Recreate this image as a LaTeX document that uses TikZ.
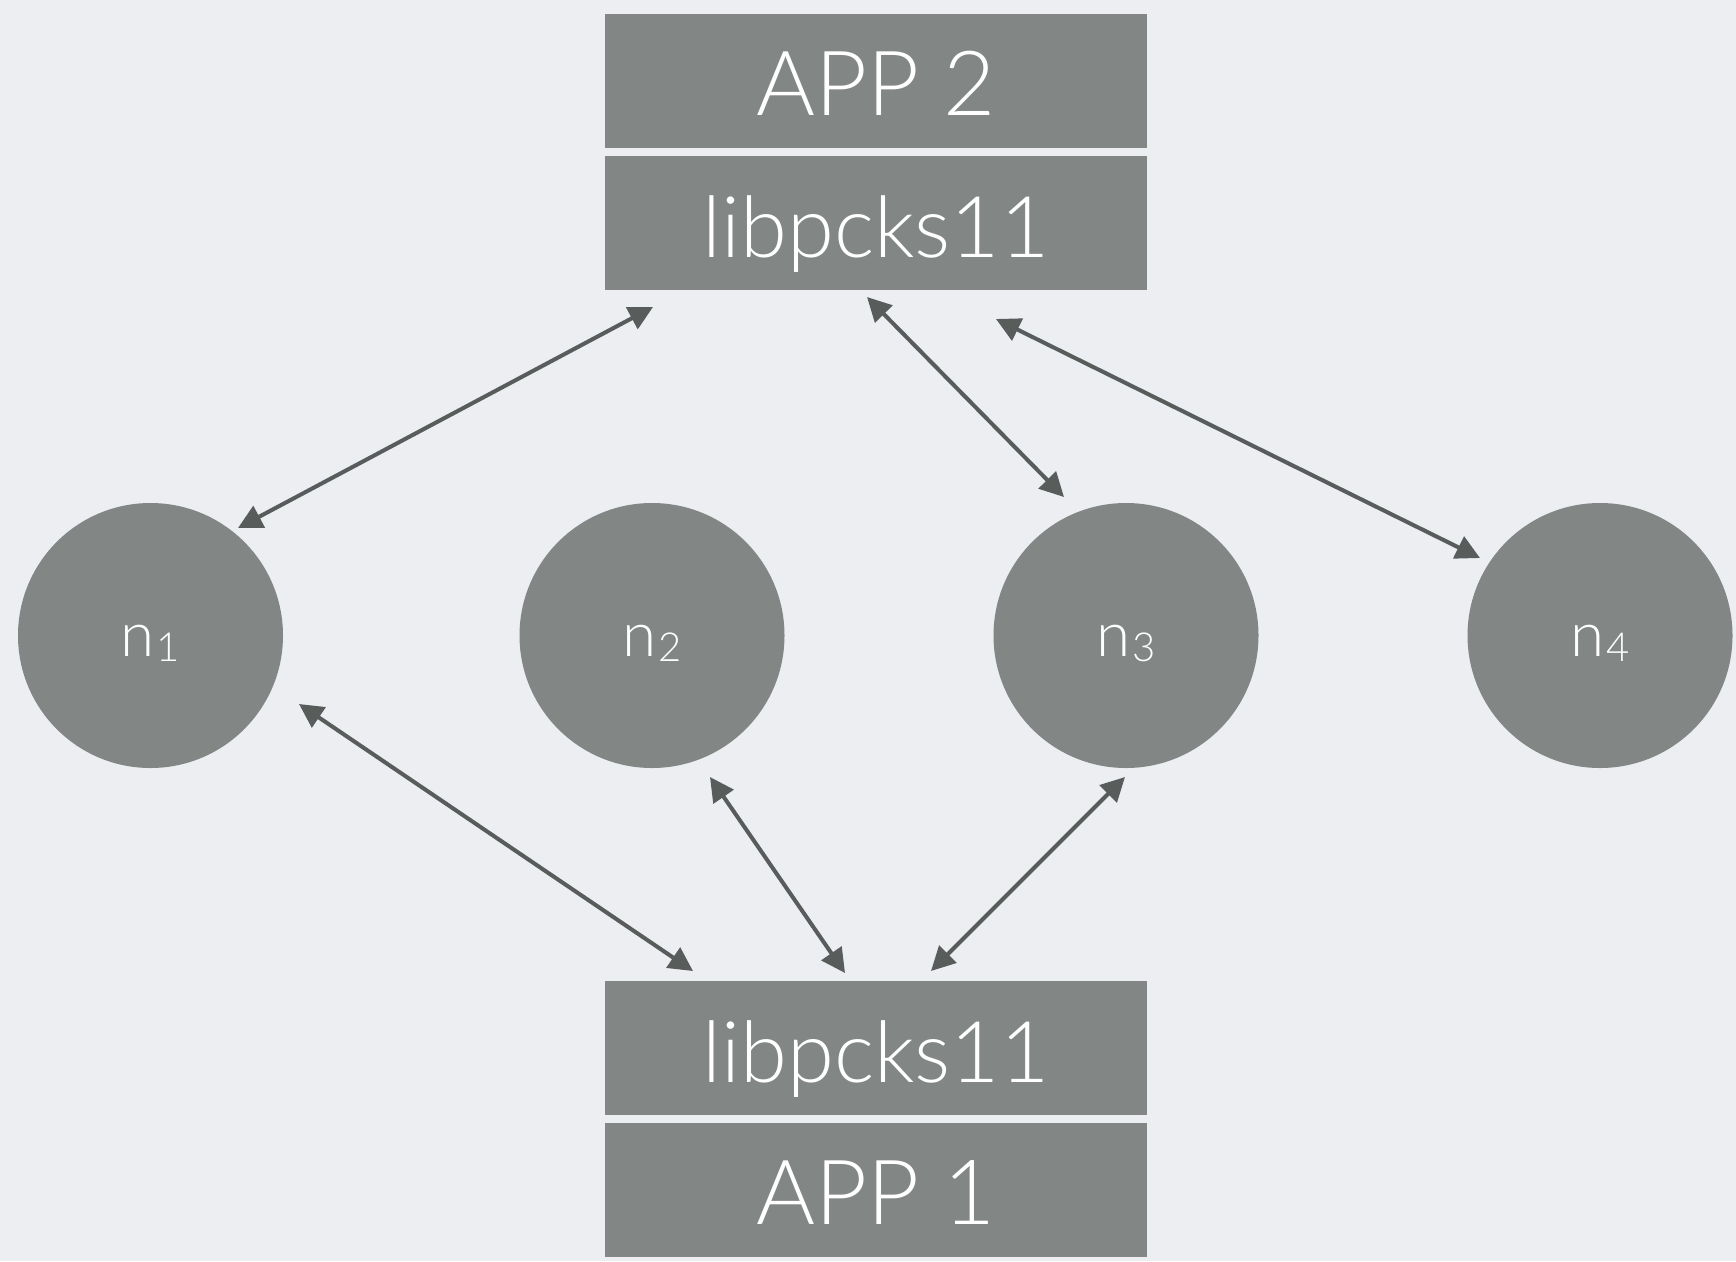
\documentclass[tikz,border=0pt]{standalone}
\usepackage{fontspec}
\setmainfont{Lato}[UprightFont={* Light}]
\usetikzlibrary{arrows.meta}
\definecolor{bg}{RGB}{236,238,241}
\definecolor{boxfill}{RGB}{130,135,133}
\definecolor{arr}{RGB}{88,92,91}
\tikzset{
  layer/.style={rectangle, fill=boxfill, text=white, minimum width=542pt, minimum height=134pt, inner sep=0pt, text height=68pt, text depth=0pt},
  bigtxt/.style={font=\fontsize{90}{92}\selectfont},
  libtxt/.style={font=\fontsize{85}{88}\selectfont},
  peer/.style={circle, fill=boxfill, text=white, minimum size=265pt, inner sep=0pt, text height=41pt, text depth=0pt, font=\fontsize{62}{64}\selectfont},
  link/.style={draw=arr, line width=4pt, {Triangle[length=24pt,width=24pt]}-{Triangle[length=24pt,width=24pt]}}
}
\newcommand{\sbx}[1]{\hspace{2pt}\raisebox{-5pt}{\fontsize{40}{42}\selectfont #1}}
\begin{document}
\begin{tikzpicture}[x=1pt,y=-1pt]
\fill[bg] (0,0) rectangle (1736,1261);
\useasboundingbox (0,0) rectangle (1736,1261);
\node[layer, bigtxt] (app2) at (876,81) {APP 2};
\node[layer, libtxt] (libt) at (876,223) {libpcks11};
\node[layer, libtxt] (libb) at (876,1048) {libpcks11};
\node[layer, bigtxt] (app1) at (876,1190) {APP 1};
\node[peer] (n1) at (150.5,635.5) {n\sbx{1}};
\node[peer] (n2) at (652,635.5) {n\sbx{2}};
\node[peer] (n3) at (1126,635.5) {n\sbx{3}};
\node[peer] (n4) at (1600,635.5) {n\sbx{4}};
\coordinate (a1s) at (238,528);  \coordinate (a1e) at (653,307);
\coordinate (a2s) at (867,297);  \coordinate (a2e) at (1064,497);
\coordinate (a3s) at (996,319);  \coordinate (a3e) at (1480,558);
\coordinate (a4s) at (299,704);  \coordinate (a4e) at (693,971);
\coordinate (a5s) at (710,777);  \coordinate (a5e) at (845,973);
\coordinate (a6s) at (1125,777); \coordinate (a6e) at (931,971);
\draw[link] (a1s) -- (a1e);
\draw[link] (a2s) -- (a2e);
\draw[link] (a3s) -- (a3e);
\draw[link] (a4s) -- (a4e);
\draw[link] (a5s) -- (a5e);
\draw[link] (a6s) -- (a6e);
\end{tikzpicture}
\end{document}
